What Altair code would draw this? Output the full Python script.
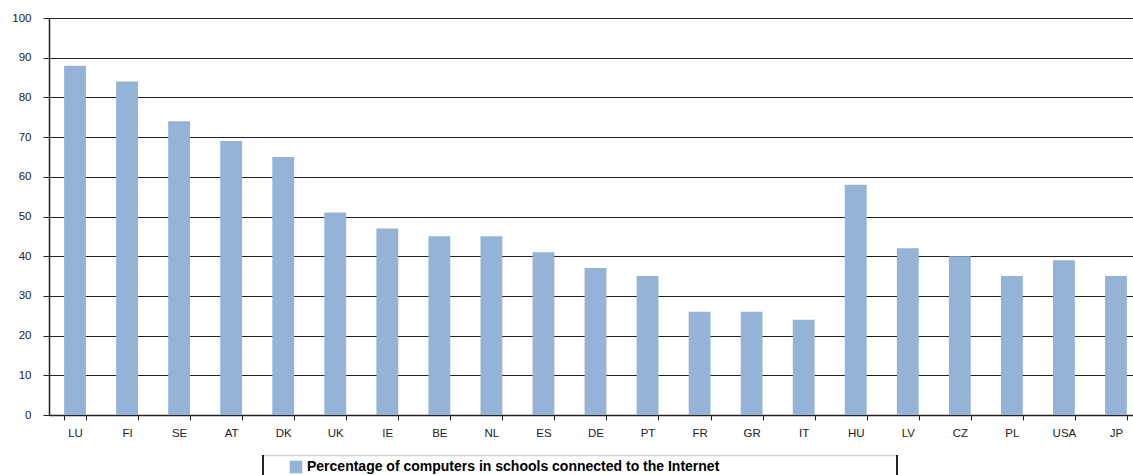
import altair as alt
import pandas as pd

# Share of school computers with an Internet connection, by country
countries = ["LU", "FI", "SE", "AT", "DK", "UK", "IE", "BE", "NL", "ES", "DE",
             "PT", "FR", "GR", "IT", "HU", "LV", "CZ", "PL", "USA", "JP"]
values = [88, 84, 74, 69, 65, 51, 47, 45, 45, 41, 37,
          35, 26, 26, 24, 58, 42, 40, 35, 39, 35]
series_name = "Percentage of computers in schools connected to the Internet"
y_ticks = list(range(0, 101, 10))

df = pd.DataFrame({"country": countries, "value": values, "series": series_name})

BAR = "#95B3D7"
INK = "#222222"
FONT = "Liberation Sans"

bars = alt.Chart(df).mark_bar(color=BAR).encode(
    x=alt.X(
        "country:N",
        sort=countries,
        title=None,
        scale=alt.Scale(range=[0, 1093], paddingInner=0.58, paddingOuter=0.29),
        axis=alt.Axis(
            labelAngle=0, labelFont=FONT, labelFontSize=11.5, labelColor=INK,
            labelPadding=7, tickBand="extent", tickSize=5, tickColor=INK,
            domainColor=INK, domainWidth=1.5, grid=False,
        ),
    ),
    y=alt.Y(
        "value:Q",
        title=None,
        scale=alt.Scale(domain=[0, 100], nice=False),
        axis=alt.Axis(
            values=y_ticks, labelFont=FONT, labelFontSize=11.5, labelColor=INK,
            labelPadding=12, tickSize=6, tickColor=INK, domainColor=INK,
            domainWidth=1.5, gridColor=INK, gridWidth=1,
        ),
    ),
    color=alt.Color(
        "series:N",
        scale=alt.Scale(range=[BAR]),
        legend=alt.Legend(
            orient="none", legendX=240, legendY=442, title=None,
            symbolType="square", symbolSize=160, symbolStrokeWidth=0,
            symbolOpacity=1, labelFont=FONT, labelFontSize=14,
            labelFontWeight="bold", labelColor="#000000", labelOffset=4,
            padding=0, labelLimit=800,
        ),
    ),
)

# Frame around the legend entry
frame = pd.DataFrame({"k": [0]})
frame_top = alt.Chart(frame).mark_rule(color="#d4d4d4", strokeWidth=1.5).encode(
    x=alt.value(214), x2=alt.value(848), y=alt.value(437.5)
)
frame_left = alt.Chart(frame).mark_rule(color=INK, strokeWidth=2).encode(
    x=alt.value(214), y=alt.value(437), y2=alt.value(470)
)
frame_right = alt.Chart(frame).mark_rule(color=INK, strokeWidth=2).encode(
    x=alt.value(848), y=alt.value(437), y2=alt.value(470)
)

chart = alt.layer(bars, frame_top, frame_left, frame_right).properties(
    width=1084,
    height=397,
    autosize=alt.AutoSizeParams(type="none"),
    padding={"left": 49, "top": 18, "right": 0, "bottom": 60},
).configure_view(stroke=None).configure(background="white")

chart.save("out.html", embed_options={"renderer": "svg", "actions": False})
